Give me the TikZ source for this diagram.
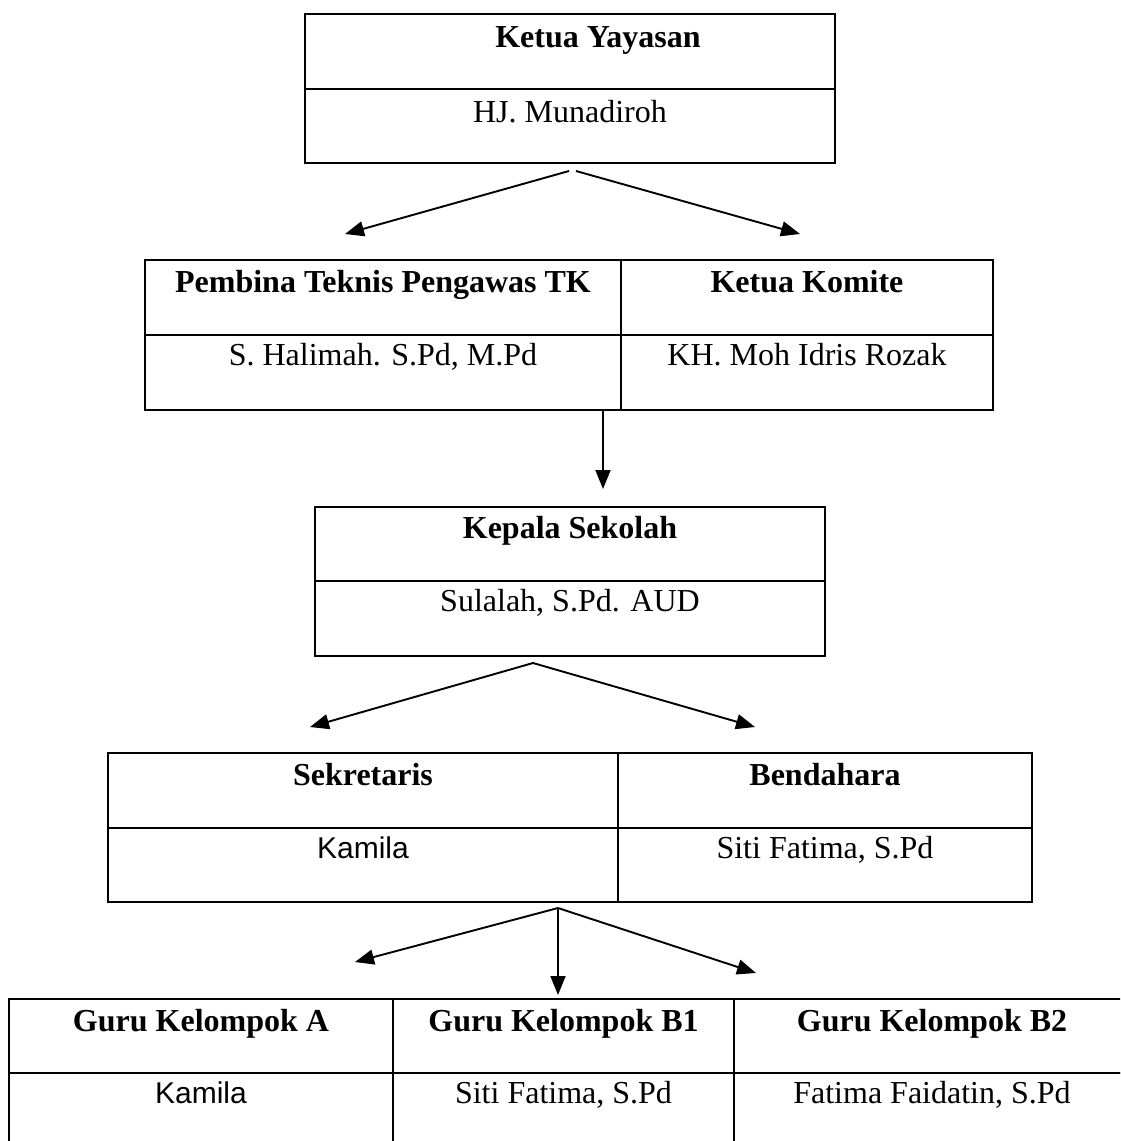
\documentclass[tikz,border=0pt]{standalone}
\usepackage{fontspec}
\setmainfont{Liberation Serif}
\newfontfamily\arialfont{Liberation Sans}
\usetikzlibrary{arrows.meta,calc}
\begin{document}
\begin{tikzpicture}[x=1pt,y=-1pt,
  cell/.style={draw, line width=1.7pt, rectangle, inner sep=0pt},
  hd/.style={anchor=base, inner sep=0pt, font=\fontsize{32}{38}\selectfont\bfseries},
  nm/.style={anchor=base, inner sep=0pt, font=\fontsize{32}{38}\selectfont},
  conn/.style={line width=1.9pt, -{Triangle[length=19pt,width=15pt]}}]
\useasboundingbox (0,0) rectangle (1120,1141);
\clip (0,0) rectangle (1120,1141);

% Ketua Yayasan
\node[cell, minimum width=530pt, minimum height=75pt] (yh) at (570,51.5) {};
\node[cell, minimum width=530pt, minimum height=74pt] (yn) at (570,126) {};
\node[hd] (tyh) at ($(yh.north)+(28,34)$) {Ketua Yayasan};
\node[nm] (tyn) at ($(yn.north)+(0,34)$) {HJ. Munadiroh};

% Row 2
\node[cell, minimum width=476pt, minimum height=75pt] (ph) at (383,297.5) {};
\node[cell, minimum width=476pt, minimum height=75pt] (pn) at (383,372.5) {};
\node[cell, minimum width=372pt, minimum height=75pt] (kh) at (807,297.5) {};
\node[cell, minimum width=372pt, minimum height=75pt] (kn) at (807,372.5) {};
\node[hd] (tph) at ($(ph.north)+(0,33)$) {Pembina Teknis Pengawas TK};
\node[nm] (tpn) at ($(pn.north)+(0,31)$) {S. Halimah. S.Pd, M.Pd};
\node[hd] (tkh) at ($(kh.north)+(0,33)$) {Ketua Komite};
\node[nm] (tkn) at ($(kn.north)+(0,31)$) {KH. Moh Idris Rozak};

% Kepala Sekolah
\node[cell, minimum width=510pt, minimum height=74pt] (ksh) at (570,544) {};
\node[cell, minimum width=510pt, minimum height=75pt] (ksn) at (570,618.5) {};
\node[hd] (tksh) at ($(ksh.north)+(0,32)$) {Kepala Sekolah};
\node[nm] (tksn) at ($(ksn.north)+(0,31)$) {Sulalah, S.Pd. AUD};

% Sekretaris / Bendahara
\node[cell, minimum width=510pt, minimum height=75pt] (sh) at (363,790.5) {};
\node[cell, minimum width=510pt, minimum height=74pt] (sn) at (363,865) {};
\node[cell, minimum width=414pt, minimum height=75pt] (bh) at (825,790.5) {};
\node[cell, minimum width=414pt, minimum height=74pt] (bn) at (825,865) {};
\node[hd] (tsh) at ($(sh.north)+(0,33)$) {Sekretaris};
\node[nm, font=\fontsize{30}{36}\selectfont\arialfont] (tsn) at ($(sn.north)+(0,31)$) {Kamila};
\node[hd] (tbh) at ($(bh.north)+(0,33)$) {Bendahara};
\node[nm] (tbn) at ($(bn.north)+(0,31)$) {Siti Fatima, S.Pd};

% Guru
\node[cell, minimum width=384pt, minimum height=74pt] (gah) at (201,1036) {};
\node[cell, minimum width=384pt, minimum height=74pt] (gan) at (201,1110) {};
\node[cell, minimum width=341pt, minimum height=74pt] (gbh) at (563.5,1036) {};
\node[cell, minimum width=341pt, minimum height=74pt] (gbn) at (563.5,1110) {};
\node[cell, minimum width=396pt, minimum height=74pt] (gch) at (932,1036) {};
\node[cell, minimum width=396pt, minimum height=74pt] (gcn) at (932,1110) {};
\node[hd] (tgah) at ($(gah.north)+(0,33)$) {Guru Kelompok A};
\node[nm, font=\fontsize{30}{36}\selectfont\arialfont] (tgan) at ($(gan.north)+(0,31)$) {Kamila};
\node[hd] (tgbh) at ($(gbh.north)+(0,33)$) {Guru Kelompok B1};
\node[nm] (tgbn) at ($(gbn.north)+(0,31)$) {Siti Fatima, S.Pd};
\node[hd] (tgch) at ($(gch.north)+(0,33)$) {Guru Kelompok B2};
\node[nm] (tgcn) at ($(gcn.north)+(0,31)$) {Fatima Faidatin, S.Pd};

% connectors
\coordinate (a1s) at (569,171);
\coordinate (a1e) at (345,234);
\coordinate (a2s) at (576,171);
\coordinate (a2e) at (800,234);
\draw[conn] (a1s) -- (a1e);
\draw[conn] (a2s) -- (a2e);

\coordinate (a3s) at (603,411);
\coordinate (a3e) at (603,489);
\draw[conn] (a3s) -- (a3e);

\coordinate (a4s) at (533,663);
\coordinate (a4e) at (310,727);
\coordinate (a5e) at (755,727);
\draw[conn] (a4s) -- (a4e);
\draw[conn] (a4s) -- (a5e);

\coordinate (a6s) at (558,908);
\coordinate (a6e) at (355,962);
\coordinate (a7e) at (558,995);
\coordinate (a8e) at (756,973);
\draw[conn] (a6s) -- (a6e);
\draw[conn] (a6s) -- (a7e);
\draw[conn] (a6s) -- (a8e);
\end{tikzpicture}
\end{document}
